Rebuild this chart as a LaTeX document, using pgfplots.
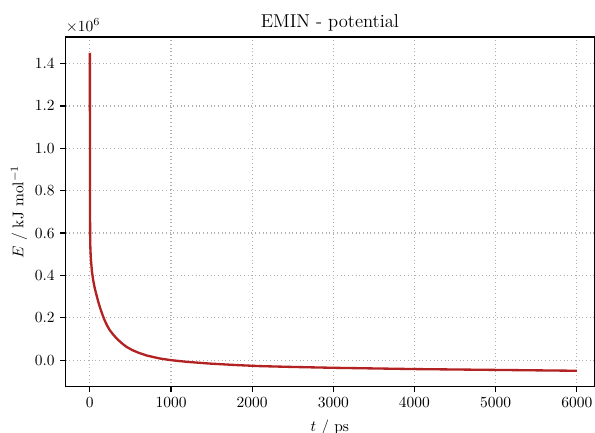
\documentclass[border=0pt]{standalone}
\usepackage{pgfplots}
\pgfplotsset{compat=1.18}
\definecolor{firebrick}{HTML}{B22222}
\definecolor{gridgray}{HTML}{B0B0B0}
\begin{document}
\begin{tikzpicture}
\begin{axis}[
  name=ax,
  scale only axis,
  width=341.3pt, height=225.7pt,
  xmin=-300, xmax=6215,
  ymin=-0.125, ymax=1.525,
  xtick={0,1000,2000,3000,4000,5000,6000},
  ytick={0,0.2,0.4,0.6,0.8,1.0,1.2,1.4},
  scaled x ticks=false, scaled y ticks=false,
  xticklabel style={/pgf/number format/1000 sep={}},
  yticklabel style={/pgf/number format/fixed,/pgf/number format/precision=1,/pgf/number format/fixed zerofill},
  tick align=outside, xtick pos=bottom, ytick pos=left,
  major tick length=3.5pt,
  tick style={black, line width=0.8pt},
  axis line style={line width=0.8pt},
  grid=major,
  major grid style={gridgray, dotted, line width=0.8pt},
  title={EMIN - potential},
  title style={font=\large, yshift=-6pt},
  xlabel={$t$ / ps},
  ylabel={$E$ / kJ mol$^{-1}$},
  xlabel style={yshift=-1pt},
  ylabel style={yshift=-2pt},
]
\addplot[firebrick, line width=1.5pt] coordinates {
(0,1.450) (1,0.900) (3,0.600) (6,0.530) (12,0.480) (25,0.420) (41,0.377)
(60,0.340) (80,0.310) (100,0.280) (123,0.251) (150,0.220) (180,0.190)
(210,0.165) (246,0.141) (300,0.115) (350,0.095) (400,0.078) (451,0.063)
(520,0.048) (600,0.035) (700,0.022) (861,0.008) (1000,0.000) (1200,-0.008)
(1476,-0.016) (1800,-0.023) (2091,-0.028) (2500,-0.032) (3000,-0.036)
(3500,-0.039) (4000,-0.042) (4500,-0.044) (5000,-0.046) (5500,-0.048)
(6000,-0.050)
};
\end{axis}
\node[anchor=south west, inner sep=0pt, yshift=2.5pt] at (ax.north west) {$\times10^{6}$};
\pgfresetboundingbox
\path ([xshift=-42.3pt,yshift=-29.7pt]ax.south west) rectangle ([xshift=0.5pt,yshift=23.9pt]ax.north east);
\end{tikzpicture}
\end{document}
